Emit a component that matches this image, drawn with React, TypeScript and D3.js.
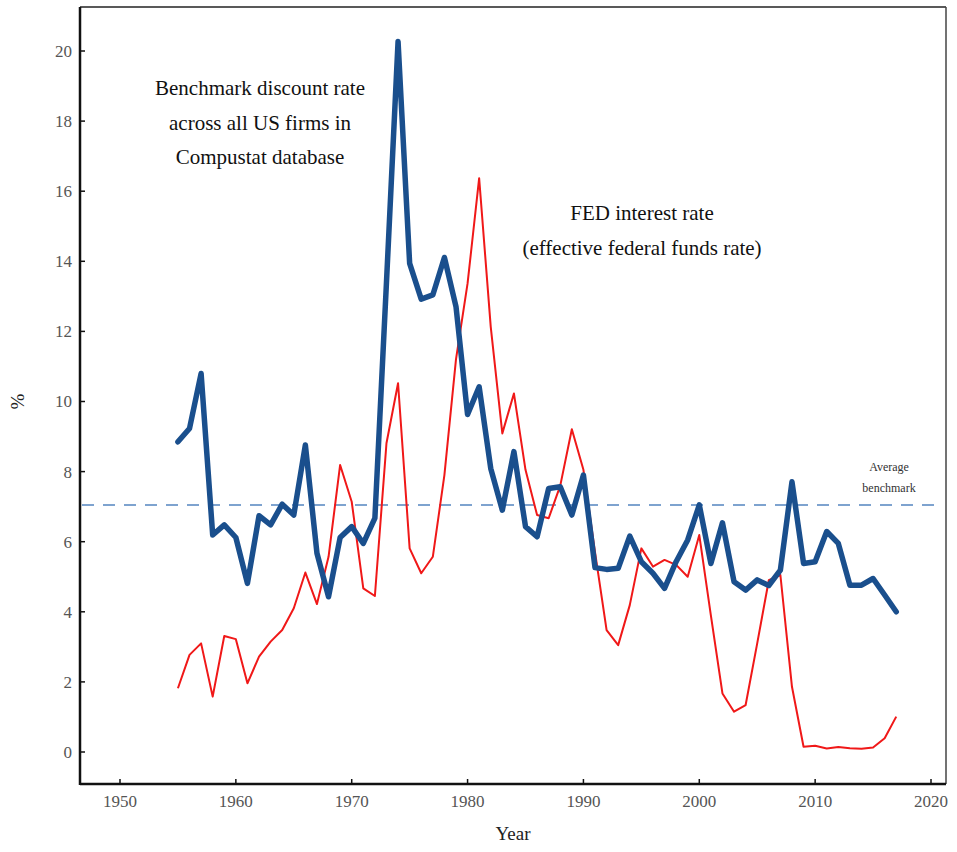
import React from "react";
import * as d3 from "d3";

const years: number[] = d3.range(1955, 2018);

const benchmark: number[] = [
  8.85, 9.23, 10.8, 6.19, 6.48, 6.12, 4.81, 6.74, 6.48, 7.07,
  6.76, 8.76, 5.67, 4.43, 6.12, 6.43, 5.95, 6.67, 13.4, 20.27,
  13.94, 12.92, 13.04, 14.11, 12.71, 9.63, 10.42, 8.09, 6.9, 8.57,
  6.43, 6.14, 7.52, 7.57, 6.76, 7.9, 5.26, 5.21, 5.24, 6.16,
  5.43, 5.1, 4.67, 5.43, 6.05, 7.05, 5.38, 6.54, 4.86, 4.62,
  4.91, 4.75, 5.19, 7.71, 5.38, 5.43, 6.29, 5.95, 4.76, 4.76,
  4.95, 4.48, 4.0,
];

const fedRate: number[] = [
  1.82, 2.77, 3.1, 1.58, 3.31, 3.22, 1.96, 2.72, 3.15, 3.48,
  4.1, 5.12, 4.22, 5.57, 8.19, 7.14, 4.67, 4.45, 8.81, 10.52,
  5.81, 5.1, 5.57, 7.9, 11.2, 13.37, 16.37, 12.13, 9.09, 10.23,
  8.05, 6.76, 6.67, 7.6, 9.21, 8.05, 5.7, 3.48, 3.05, 4.19,
  5.81, 5.29, 5.48, 5.34, 5.0, 6.19, 3.9, 1.67, 1.15, 1.34,
  3.1, 4.9, 5.05, 1.86, 0.15, 0.18, 0.1, 0.14, 0.11, 0.09,
  0.13, 0.39, 1.01,
];

const averageBenchmark = 7.05;

const xTicks: number[] = [1950, 1960, 1970, 1980, 1990, 2000, 2010, 2020];
const yTicks: number[] = [0, 2, 4, 6, 8, 10, 12, 14, 16, 18, 20];

const benchmarkLabel: string[] = [
  "Benchmark discount rate",
  "across all US firms in",
  "Compustat database",
];
const fedLabel: string[] = ["FED interest rate", "(effective federal funds rate)"];
const avgLabel: string[] = ["Average", "benchmark"];

const W = 957;
const H = 852;
const frame = { left: 80, right: 946, top: 7, bottom: 784 };
const FONT = "'Liberation Serif', 'Times New Roman', serif";

export default function App() {
  const x = d3.scaleLinear().domain([1950, 2020]).range([120, 931]);
  const y = d3.scaleLinear().domain([0, 20]).range([752, 51]);

  const line = d3
    .line<[number, number]>()
    .x((d) => x(d[0]))
    .y((d) => y(d[1]));

  const bPts = years.map((yr, i) => [yr, benchmark[i]] as [number, number]);
  const fPts = years.map((yr, i) => [yr, fedRate[i]] as [number, number]);

  return (
    <svg
      width={W}
      height={H}
      style={{ position: "absolute", left: 0, top: 0, background: "#fff" }}
      fontFamily={FONT}
    >
      <rect x={0} y={0} width={W} height={H} fill="#fff" />
      {/* average benchmark dashed line */}
      <line
        x1={frame.left + 2}
        x2={frame.right - 4}
        y1={y(averageBenchmark)}
        y2={y(averageBenchmark)}
        stroke="#7ea3cf"
        strokeWidth={2}
        strokeDasharray="12 9"
      />
      {/* FED line */}
      <path d={line(fPts) || ""} fill="none" stroke="#f01818" strokeWidth={2} strokeLinejoin="round" />
      {/* Benchmark line */}
      <path
        d={line(bPts) || ""}
        fill="none"
        stroke="#1a4f8d"
        strokeWidth={5.5}
        strokeLinejoin="round"
        strokeLinecap="round"
      />
      {/* frame */}
      <line x1={frame.left} x2={frame.right} y1={frame.top} y2={frame.top} stroke="#222" strokeWidth={1.5} />
      <line x1={frame.right} x2={frame.right} y1={frame.top} y2={frame.bottom} stroke="#444" strokeWidth={1.5} />
      <line x1={frame.left} x2={frame.right} y1={frame.bottom} y2={frame.bottom} stroke="#111" strokeWidth={2.5} />
      <line x1={frame.left} x2={frame.left} y1={frame.top} y2={frame.bottom + 1} stroke="#111" strokeWidth={2.5} />
      {/* x ticks */}
      {xTicks.map((t) => (
        <g key={"x" + t}>
          <line x1={x(t)} x2={x(t)} y1={frame.bottom} y2={frame.bottom - 5} stroke="#111" strokeWidth={1.5} />
          <text x={x(t)} y={frame.bottom + 23} textAnchor="middle" fontSize={17} fill="#555">
            {t}
          </text>
        </g>
      ))}
      {/* y ticks */}
      {yTicks.map((t) => (
        <g key={"y" + t}>
          <line x1={frame.left} x2={frame.left + 5} y1={y(t)} y2={y(t)} stroke="#111" strokeWidth={1.5} />
          <text x={frame.left - 8} y={y(t)} dy="0.35em" textAnchor="end" fontSize={17} fill="#555">
            {t}
          </text>
        </g>
      ))}
      {/* axis titles */}
      <text x={513} y={840} textAnchor="middle" fontSize={19} fill="#222">
        Year
      </text>
      <text
        transform={`translate(24, ${y(10)}) rotate(-90)`}
        textAnchor="middle"
        fontSize={19}
        fill="#222"
      >
        %
      </text>
      {/* annotations */}
      {benchmarkLabel.map((s, i) => (
        <text key={"b" + i} x={260} y={95 + i * 34.5} textAnchor="middle" fontSize={21} fill="#111">
          {s}
        </text>
      ))}
      {fedLabel.map((s, i) => (
        <text key={"f" + i} x={642} y={220 + i * 34.5} textAnchor="middle" fontSize={21} fill="#111">
          {s}
        </text>
      ))}
      {avgLabel.map((s, i) => (
        <text key={"a" + i} x={889} y={471 + i * 21} textAnchor="middle" fontSize={12} fill="#333">
          {s}
        </text>
      ))}
    </svg>
  );
}
